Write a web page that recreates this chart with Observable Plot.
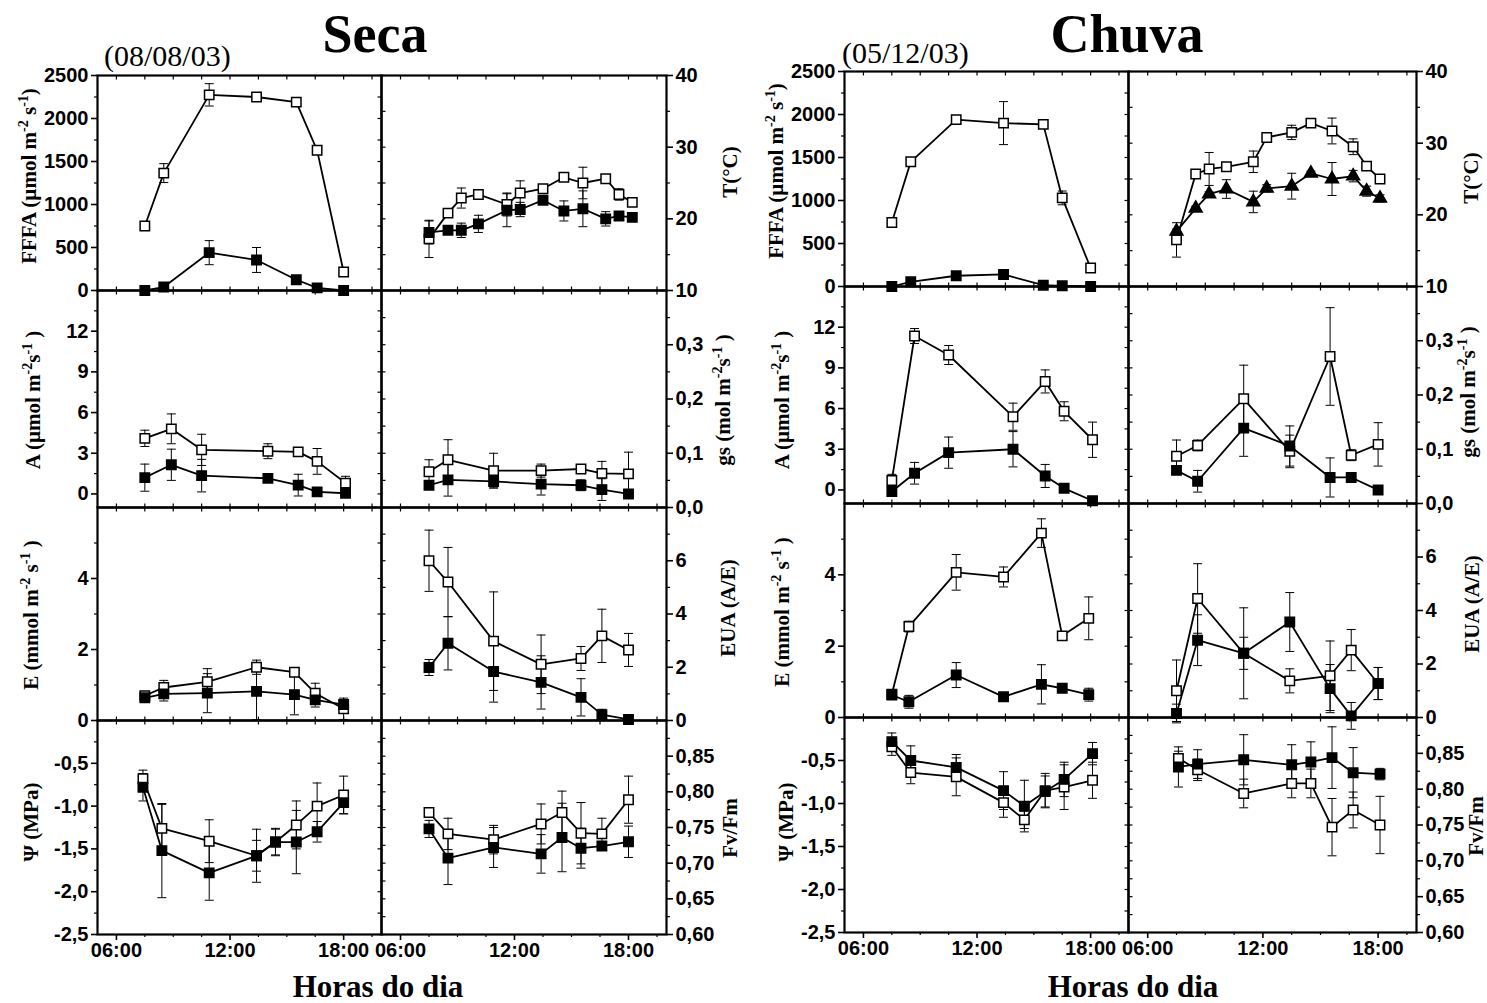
<!DOCTYPE html>
<html><head><meta charset="utf-8">
<script src="https://cdn.jsdelivr.net/npm/d3@7"></script>
<script src="https://cdn.jsdelivr.net/npm/@observablehq/plot@0.6"></script>
<style>
body{margin:0;background:#fff;}
#root{position:relative;width:1487px;height:1003px;overflow:hidden;background:#fff;}
.pw{position:absolute;}
.pw svg text{font-family:'Liberation Sans',Arial,sans-serif !important;font-size:20px !important;font-weight:bold !important;}
#overlay{position:absolute;left:0;top:0;pointer-events:none;}
</style></head>
<body><div id="root"></div>
<script>
// ---------- DATA: Seca (08/08/03) ----------
const ffaTimeS = [7.5, 8.5, 10.9, 13.4, 15.5, 16.6, 18.0];
const ffaOpenS = [750, 1365, 2275, 2250, 2190, 1630, 215];
const ffaOpenErrS = [30, 110, 130, 50, 20, 20, 30];
const ffaFillS = [0, 40, 440, 355, 125, 30, 0];
const ffaFillErrS = [0, 0, 140, 145, 0, 0, 0];

const tTimeS = [7.5, 8.5, 9.2, 10.1, 11.6, 12.3, 13.5, 14.6, 15.6, 16.8, 17.5, 18.2];
const tOpenS = [17.2, 20.8, 22.9, 23.4, 22.0, 23.6, 24.2, 25.8, 25.0, 25.6, 23.4, 22.3];
const tOpenErrS = [2.6, 0.4, 1.4, 0.3, 1.6, 1.7, 0.3, 0.3, 2.2, 0.3, 0.8, 0.5];
const tFillS = [18.1, 18.4, 18.4, 19.3, 21.2, 21.3, 22.6, 21.1, 21.4, 20.0, 20.4, 20.2];
const tFillErrS = [1.6, 0.4, 1.0, 1.2, 2.3, 1.0, 0.6, 1.4, 2.5, 1.0, 0.3, 0.5];

const aTimeS = [7.5, 8.9, 10.5, 14.0, 15.6, 16.6, 18.1];
const aOpenS = [4.1, 4.8, 3.25, 3.15, 3.1, 2.4, 0.8];
const aOpenErrS = [0.6, 1.1, 1.15, 0.55, 0.2, 0.95, 0.5];
const aFillS = [1.2, 2.15, 1.35, 1.15, 0.65, 0.15, 0.05];
const aFillErrS = [1.0, 1.15, 1.2, 0.1, 0.8, 0.1, 0.1];

const gsTimeS = [7.5, 8.5, 10.9, 13.4, 15.5, 16.6, 18.0];
const gsOpenS = [0.066, 0.088, 0.068, 0.068, 0.071, 0.063, 0.062];
const gsOpenErrS = [0.022, 0.037, 0.032, 0.012, 0.008, 0.022, 0.04];
const gsFillS = [0.041, 0.051, 0.048, 0.043, 0.041, 0.033, 0.025];
const gsFillErrS = [0.004, 0.03, 0.012, 0.02, 0.01, 0.02, 0.005];

const eTimeS = [7.5, 8.5, 10.8, 13.4, 15.4, 16.5, 18.0];
const eOpenS = [0.7, 0.93, 1.09, 1.5, 1.36, 0.77, 0.33];
const eOpenErrS = [0.05, 0.2, 0.37, 0.2, 0.1, 0.28, 0.3];
const eFillS = [0.64, 0.75, 0.77, 0.82, 0.73, 0.58, 0.45];
const eFillErrS = [0.05, 0.2, 0.55, 0.8, 0.57, 0.2, 0.1];

const euaTimeS = [7.5, 8.5, 10.9, 13.4, 15.5, 16.6, 18.0];
const euaOpenS = [6.0, 5.2, 2.98, 2.11, 2.33, 3.18, 2.65];
const euaOpenErrS = [1.15, 1.3, 1.85, 1.1, 0.45, 1.0, 0.62];
const euaFillS = [1.99, 2.9, 1.84, 1.43, 0.87, 0.22, 0.04];
const euaFillErrS = [0.3, 1.0, 1.15, 1.0, 0.7, 0.2, 0.15];

const psiTimeS = [7.4, 8.4, 10.9, 13.4, 14.4, 15.5, 16.6, 18.0];
const psiOpenS = [-0.68, -1.26, -1.41, -1.58, -1.42, -1.22, -1.0, -0.87];
const psiOpenErrS = [0.1, 0.28, 0.25, 0.18, 0.15, 0.28, 0.27, 0.22];
const psiFillS = [-0.78, -1.52, -1.78, -1.58, -1.42, -1.42, -1.3, -0.96];
const psiFillErrS = [0.16, 0.55, 0.32, 0.31, 0.16, 0.37, 0.12, 0.13];

const fvTimeS = [7.5, 8.5, 10.9, 13.4, 14.5, 15.5, 16.6, 18.0];
const fvOpenS = [0.771, 0.741, 0.733, 0.755, 0.771, 0.742, 0.741, 0.789];
const fvOpenErrS = [0.004, 0.022, 0.02, 0.028, 0.03, 0.043, 0.022, 0.033];
const fvFillS = [0.748, 0.707, 0.722, 0.713, 0.736, 0.721, 0.724, 0.730];
const fvFillErrS = [0.012, 0.037, 0.028, 0.027, 0.048, 0.028, 0.005, 0.022];

// ---------- DATA: Chuva (05/12/03) ----------
const ffaTimeC = [7.5, 8.5, 10.9, 13.4, 15.5, 16.5, 18.0];
const ffaOpenC = [745, 1450, 1940, 1900, 1885, 1030, 215];
const ffaOpenErrC = [30, 30, 20, 250, 20, 80, 30];
const ffaFillC = [0, 55, 125, 140, 15, 8, 0];
const ffaFillErrC = [0, 0, 0, 0, 0, 0, 0];

const tTimeC = [7.5, 8.5, 9.2, 10.1, 11.5, 12.2, 13.5, 14.5, 15.6, 16.7, 17.4, 18.1];
const tOpenC = [16.5, 25.7, 26.4, 26.7, 27.4, 30.8, 31.5, 32.8, 31.7, 29.5, 26.8, 25.0];
const tOpenErrC = [2.4, 0.3, 2.3, 0.3, 1.5, 0.6, 1.0, 0.3, 1.8, 1.1, 0.6, 0.3];
const tTriC = [17.7, 20.9, 22.9, 23.6, 21.8, 23.7, 24.0, 25.8, 25.0, 25.4, 23.3, 22.3];
const tTriErrC = [0.3, 0.3, 0.3, 1.3, 1.5, 0.5, 1.8, 0.3, 2.3, 0.8, 0.7, 0.5];

const aTimeC = [7.5, 8.7, 10.5, 13.9, 15.6, 16.6, 18.1];
const aOpenC = [0.7, 11.35, 9.95, 5.4, 8.0, 5.8, 3.7];
const aOpenErrC = [0.45, 0.55, 0.7, 1.0, 0.85, 0.7, 1.3];
const aFillC = [-0.12, 1.23, 2.75, 3.0, 1.03, 0.12, -0.8];
const aFillErrC = [0.1, 0.8, 1.15, 1.3, 0.85, 0.1, 0.25];

const gsTimeC = [7.5, 8.6, 11.0, 13.4, 15.5, 16.6, 18.0];
const gsOpenC = [0.087, 0.107, 0.193, 0.096, 0.271, 0.089, 0.109];
const gsOpenErrC = [0.03, 0.01, 0.062, 0.03, 0.09, 0.01, 0.04];
const gsFillC = [0.061, 0.041, 0.139, 0.106, 0.048, 0.048, 0.025];
const gsFillErrC = [0.005, 0.02, 0.052, 0.037, 0.036, 0.005, 0.005];

const eTimeC = [7.5, 8.4, 10.9, 13.4, 15.4, 16.5, 17.9];
const eOpenC = [0.65, 2.55, 4.07, 3.94, 5.17, 2.29, 2.78];
const eOpenErrC = [0.05, 0.15, 0.5, 0.28, 0.4, 0.05, 0.6];
const eFillC = [0.63, 0.44, 1.19, 0.58, 0.93, 0.82, 0.64];
const eFillErrC = [0.05, 0.18, 0.35, 0.05, 0.55, 0.05, 0.18];

const euaTimeC = [7.5, 8.6, 11.0, 13.4, 15.5, 16.6, 18.0];
const euaOpenC = [1.0, 4.45, 2.4, 1.37, 1.56, 2.52, 1.27];
const euaOpenErrC = [1.15, 1.3, 1.7, 0.45, 1.3, 0.77, 0.6];
const euaFillC = [0.15, 2.89, 2.4, 3.57, 1.08, 0.06, 1.27];
const euaFillErrC = [0.35, 0.95, 0.6, 1.1, 0.9, 0.5, 0.6];

const psiTimeC = [7.5, 8.5, 10.9, 13.4, 14.5, 15.6, 16.6, 18.1];
const psiOpenC = [-0.34, -0.64, -0.69, -0.99, -1.19, -0.85, -0.81, -0.73];
const psiOpenErrC = [0.1, 0.13, 0.22, 0.17, 0.1, 0.2, 0.26, 0.21];
const psiFillC = [-0.28, -0.50, -0.58, -0.85, -1.03, -0.86, -0.72, -0.42];
const psiFillErrC = [0.1, 0.17, 0.15, 0.22, 0.3, 0.18, 0.2, 0.13];

const fvTimeC = [7.6, 8.6, 11.0, 13.5, 14.5, 15.6, 16.7, 18.1];
const fvOpenC = [0.843, 0.827, 0.794, 0.808, 0.808, 0.747, 0.771, 0.750];
const fvOpenErrC = [0.01, 0.015, 0.02, 0.02, 0.02, 0.04, 0.025, 0.04];
const fvFillC = [0.831, 0.835, 0.841, 0.834, 0.838, 0.844, 0.823, 0.821];
const fvFillErrC = [0.028, 0.02, 0.035, 0.028, 0.028, 0.043, 0.035, 0.008];

// ---------- ticks / labels ----------
const xDomain = [5, 20];
const xMajor = [6, 12, 18];
const xMinor = [7.5, 9, 10.5, 13.5, 15, 16.5, 19.5];
const xFmt = d => (d < 10 ? "0" : "") + d + ":00";
const comma = n => d => d.toFixed(n).replace(".", ",");

// ---------- helpers ----------
const capSym = {draw(c){c.moveTo(-4.5,0);c.lineTo(4.5,0);}};
const inR = {draw(c){c.moveTo(0,0);c.lineTo(4,0);}};
const inL = {draw(c){c.moveTo(0,0);c.lineTo(-4,0);}};
const inDown = {draw(c){c.moveTo(0,0);c.lineTo(0,4);}};
const inUp = {draw(c){c.moveTo(0,0);c.lineTo(0,-4);}};

function ser(t, v, e, kind){ return {kind, rows: t.map((x,i)=>({t:x, v:v[i], e:e[i]}))}; }

const root = document.getElementById("root");
const tickFont = {fontSize: 20, fontWeight: "bold", fontFamily: "'Liberation Sans',Arial,sans-serif"};

function panel(p){
  const {left, top, width, height, side, domain, majors, minors, fmt, series, bottom} = p;
  const marks = [];
  for (const s of series){
    const eb = s.rows.filter(d => d.e > 0);
    marks.push(Plot.ruleX(eb, {x:"t", y1:d=>d.v-d.e, y2:d=>d.v+d.e, stroke:"black", strokeWidth:1}));
    marks.push(Plot.dot(eb, {x:"t", y:d=>d.v-d.e, symbol:capSym, fill:"none", stroke:"black", strokeWidth:1}));
    marks.push(Plot.dot(eb, {x:"t", y:d=>d.v+d.e, symbol:capSym, fill:"none", stroke:"black", strokeWidth:1}));
  }
  for (const s of series){
    marks.push(Plot.line(s.rows, {x:"t", y:"v", stroke:"black", strokeWidth:1.8}));
  }
  for (const s of series){
    const tri = s.kind === "tri";
    marks.push(Plot.dot(s.rows, {x:"t", y:"v", symbol: tri ? "triangle" : "square", r: tri ? 4.8 : 5.3,
      fill: s.kind === "open" ? "white" : "black", stroke:"black", strokeWidth:1.5}));
  }
  const allY = majors.concat(minors);
  const other = side === "left" ? xDomain[1] : xDomain[0];
  marks.push(Plot.dot(allY, {x:()=>other, y:d=>d, symbol: side === "left" ? inL : inR, fill:"none", stroke:"black", strokeWidth:1.2}));
  const allX = xMajor.concat(xMinor);
  marks.push(Plot.dot(allX, {x:d=>d, y:()=>domain[1], symbol:inDown, fill:"none", stroke:"black", strokeWidth:1.2}));
  if (!bottom) marks.push(Plot.dot(allX, {x:d=>d, y:()=>domain[0], symbol:inUp, fill:"none", stroke:"black", strokeWidth:1.2}));
  marks.push(Plot.axisY(majors, {anchor: side, tickSize: 6, tickPadding: 3, tickFormat: fmt, label: null, strokeWidth: 1.6, ...tickFont}));
  marks.push(Plot.axisY(minors, {anchor: side, tickSize: 3, tickFormat: () => "", label: null, strokeWidth: 1.2}));
  if (bottom){
    marks.push(Plot.axisX(xMajor, {anchor:"bottom", tickSize: 6, tickPadding: 2, tickFormat: xFmt, label: null, strokeWidth: 1.6, ...tickFont}));
    marks.push(Plot.axisX(xMinor, {anchor:"bottom", tickSize: 3, tickFormat: () => "", label: null, strokeWidth: 1.2}));
  }
  marks.push(Plot.frame({stroke:"black", strokeWidth:2.2}));
  const svg = Plot.plot({
    width, height, margin: 0,
    x: {domain: xDomain, axis: null},
    y: {domain, axis: null},
    style: {overflow: "visible", background: "transparent", color: "black", maxWidth: "none", fontSize: "20px", fontWeight: "bold", fontFamily: "'Liberation Sans',Arial,sans-serif"},
    marks
  });
  const wrap = document.createElement("div");
  wrap.className = "pw";
  wrap.style.left = left + "px";
  wrap.style.top = top + "px";
  wrap.appendChild(svg);
  root.appendChild(wrap);
}

// layouts
const sL = {left: 97, width: 284}, sR = {left: 381, width: 285};
const cL = {left: 844, width: 284}, cR = {left: 1128, width: 288};
const sRows = [[75,215],[290,217],[507,213],[720,214]];
const cRows = [[71,215],[286,217],[503,214],[717,215]];

const cfg = {
  ffa: {domain:[0,2500], majors:[0,500,1000,1500,2000,2500], minors:[250,750,1250,1750,2250], fmt: d=>String(d)},
  t:   {domain:[10,40], majors:[10,20,30,40], minors:[15,25,35], fmt: d=>String(d)},
  a:   {domain:[-1,15], majors:[0,3,6,9,12], minors:[1.5,4.5,7.5,10.5,13.5], fmt: d=>String(d)},
  gs:  {domain:[0,0.4], majors:[0,0.1,0.2,0.3], minors:[0.05,0.15,0.25,0.35], fmt: comma(1)},
  e:   {domain:[0,6], majors:[0,2,4], minors:[1,3,5], fmt: d=>String(d)},
  eua: {domain:[0,8], majors:[0,2,4,6], minors:[1,3,5,7], fmt: d=>String(d)},
  psi: {domain:[-2.5,0], majors:[-2.5,-2,-1.5,-1,-0.5], minors:[-2.25,-1.75,-1.25,-0.75,-0.25], fmt: comma(1)},
  fv:  {domain:[0.6,0.9], majors:[0.6,0.65,0.7,0.75,0.8,0.85], minors:[0.625,0.675,0.725,0.775,0.825,0.875], fmt: comma(2)}
};

function place(col, row, side, c, series, bottom){
  panel({left: col.left, width: col.width, top: row[0], height: row[1], side, ...c, series, bottom});
}

// Seca
place(sL, sRows[0], "left", cfg.ffa, [ser(ffaTimeS, ffaOpenS, ffaOpenErrS, "open"), ser(ffaTimeS, ffaFillS, ffaFillErrS, "fill")]);
place(sR, sRows[0], "right", cfg.t, [ser(tTimeS, tOpenS, tOpenErrS, "open"), ser(tTimeS, tFillS, tFillErrS, "fill")]);
place(sL, sRows[1], "left", cfg.a, [ser(aTimeS, aOpenS, aOpenErrS, "open"), ser(aTimeS, aFillS, aFillErrS, "fill")]);
place(sR, sRows[1], "right", cfg.gs, [ser(gsTimeS, gsOpenS, gsOpenErrS, "open"), ser(gsTimeS, gsFillS, gsFillErrS, "fill")]);
place(sL, sRows[2], "left", cfg.e, [ser(eTimeS, eOpenS, eOpenErrS, "open"), ser(eTimeS, eFillS, eFillErrS, "fill")]);
place(sR, sRows[2], "right", cfg.eua, [ser(euaTimeS, euaOpenS, euaOpenErrS, "open"), ser(euaTimeS, euaFillS, euaFillErrS, "fill")]);
place(sL, sRows[3], "left", cfg.psi, [ser(psiTimeS, psiOpenS, psiOpenErrS, "open"), ser(psiTimeS, psiFillS, psiFillErrS, "fill")], true);
place(sR, sRows[3], "right", cfg.fv, [ser(fvTimeS, fvOpenS, fvOpenErrS, "open"), ser(fvTimeS, fvFillS, fvFillErrS, "fill")], true);
// Chuva
place(cL, cRows[0], "left", cfg.ffa, [ser(ffaTimeC, ffaOpenC, ffaOpenErrC, "open"), ser(ffaTimeC, ffaFillC, ffaFillErrC, "fill")]);
place(cR, cRows[0], "right", cfg.t, [ser(tTimeC, tOpenC, tOpenErrC, "open"), ser(tTimeC, tTriC, tTriErrC, "tri")]);
place(cL, cRows[1], "left", cfg.a, [ser(aTimeC, aOpenC, aOpenErrC, "open"), ser(aTimeC, aFillC, aFillErrC, "fill")]);
place(cR, cRows[1], "right", cfg.gs, [ser(gsTimeC, gsOpenC, gsOpenErrC, "open"), ser(gsTimeC, gsFillC, gsFillErrC, "fill")]);
place(cL, cRows[2], "left", cfg.e, [ser(eTimeC, eOpenC, eOpenErrC, "open"), ser(eTimeC, eFillC, eFillErrC, "fill")]);
place(cR, cRows[2], "right", cfg.eua, [ser(euaTimeC, euaOpenC, euaOpenErrC, "open"), ser(euaTimeC, euaFillC, euaFillErrC, "fill")]);
place(cL, cRows[3], "left", cfg.psi, [ser(psiTimeC, psiOpenC, psiOpenErrC, "open"), ser(psiTimeC, psiFillC, psiFillErrC, "fill")], true);
place(cR, cRows[3], "right", cfg.fv, [ser(fvTimeC, fvOpenC, fvOpenErrC, "open"), ser(fvTimeC, fvFillC, fvFillErrC, "fill")], true);

// ---------- text overlay ----------
const NS = "http://www.w3.org/2000/svg";
const ov = document.createElementNS(NS, "svg");
ov.setAttribute("id", "overlay");
ov.setAttribute("width", 1487); ov.setAttribute("height", 1003);
root.appendChild(ov);
const serif = "'Liberation Serif','Times New Roman',serif";
function txt(x, y, s, size, weight, anchor){
  const t = document.createElementNS(NS, "text");
  t.setAttribute("x", x); t.setAttribute("y", y);
  t.setAttribute("font-family", serif); t.setAttribute("font-size", size);
  t.setAttribute("font-weight", weight); t.setAttribute("text-anchor", anchor);
  t.textContent = s; ov.appendChild(t);
}
// parts: [text, isSup]
function ylab(cx, cy, parts){
  const t = document.createElementNS(NS, "text");
  t.setAttribute("transform", `translate(${cx},${cy}) rotate(-90)`);
  t.setAttribute("font-family", serif); t.setAttribute("font-size", 21);
  t.setAttribute("font-weight", "bold"); t.setAttribute("text-anchor", "middle");
  t.setAttribute("dy", "0.35em");
  let up = false;
  for (const [s, sup] of parts){
    const ts = document.createElementNS(NS, "tspan");
    if (sup && !up){ ts.setAttribute("dy", -8); up = true; }
    else if (!sup && up){ ts.setAttribute("dy", 8); up = false; }
    if (sup) ts.setAttribute("font-size", 14);
    ts.textContent = s; t.appendChild(ts);
  }
  ov.appendChild(t);
}
txt(375, 52, "Seca", 54, "bold", "middle");
txt(1127, 52, "Chuva", 54, "bold", "middle");
txt(104, 66, "(08/08/03)", 30, "normal", "start");
txt(842, 63, "(05/12/03)", 30, "normal", "start");
txt(378, 997, "Horas do dia", 31, "bold", "middle");
txt(1133, 997, "Horas do dia", 31, "bold", "middle");

const labFFA = [["FFFA (µmol m"],["-2",1],[" s"],["-1",1],[")"]];
const labA = [["A (µmol m"],["-2",1],["s"],["-1",1],[" )"]];
const labE = [["E (mmol m"],["-2",1],[" s"],["-1",1],[" )"]];
const labGs = [["gs (mol m"],["-2",1],["s"],["-1",1],[" )"]];
ylab(29, 176, labFFA); ylab(33, 400, labA); ylab(31, 615, labE); ylab(31, 822, [["Ψ (MPa)"]]);
ylab(730, 172, [["T(°C)"]]); ylab(723, 400, labGs); ylab(728, 608, [["EUA (A/E)"]]); ylab(730, 828, [["Fv/Fm"]]);
ylab(776, 171, labFFA); ylab(782, 400, labA); ylab(782, 612, labE); ylab(786, 822, [["Ψ (MPa)"]]);
ylab(1471, 178, [["T(°C)"]]); ylab(1468, 392, labGs); ylab(1472, 604, [["EUA (A/E)"]]); ylab(1476, 826, [["Fv/Fm"]]);
</script></body></html>
